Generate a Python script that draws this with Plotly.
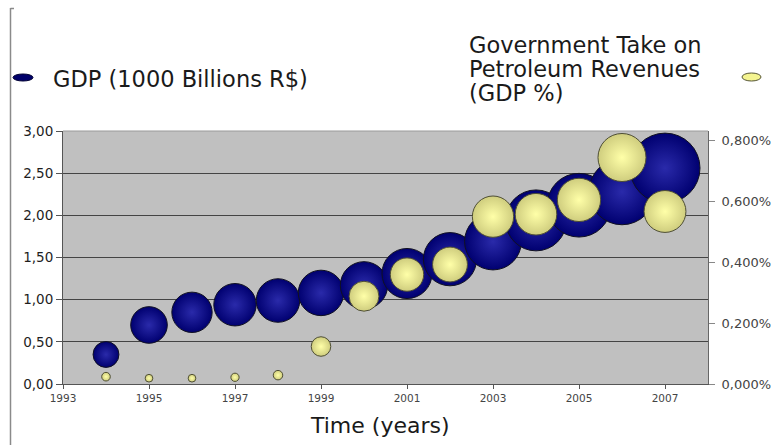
import plotly.graph_objects as go

years = [1994, 1995, 1996, 1997, 1998, 1999, 2000, 2001, 2002, 2003, 2004, 2005, 2006, 2007]
gdp = [0.35, 0.70, 0.85, 0.94, 0.99, 1.08, 1.17, 1.31, 1.48, 1.69, 1.94, 2.12, 2.28, 2.56]
gov_take = [0.024, 0.019, 0.019, 0.022, 0.029, 0.123, 0.288, 0.359, 0.392, 0.549, 0.557, 0.604, 0.743, 0.566]

left_ticks = [0, 0.5, 1.0, 1.5, 2.0, 2.5, 3.0]
right_ticks = [0, 0.2, 0.4, 0.6, 0.8]
right_tick_labels = ["0,000%", "0,200%", "0,400%", "0,600%", "0,800%"]
x_ticks = [1993, 1995, 1997, 1999, 2001, 2003, 2005, 2007]
gov_title_lines = ["Government Take on", "Petroleum Revenues", "(GDP %)"]

W, H = 779, 445
ML, MR, MT, MB = 63, 71, 131, 61
PW, PH = W - ML - MR, H - MT - MB


def px(x):
    return (x - ML) / PW


def py(y):
    return (H - MB - y) / PH


fig = go.Figure()
fig.add_trace(go.Scatter(
    x=years, y=gdp, mode="markers", name="GDP (1000 Billions R$)",
    marker=dict(size=gdp, sizemode="area", sizeref=2 / 43.75 ** 2,
                color="#000070", gradient=dict(type="radial", color="#2a2aaa"),
                line=dict(color="#111122", width=1), opacity=1),
    yaxis="y", showlegend=False, hoverinfo="x+y"))
fig.add_trace(go.Scatter(
    x=years, y=gov_take, mode="markers", name="Government Take on Petroleum Revenues (GDP %)",
    marker=dict(size=gov_take, sizemode="area", sizeref=2 / 55.7 ** 2,
                color="#cfcd7e", gradient=dict(type="radial", color="#ffffa8"),
                line=dict(color="#4e4e34", width=1), opacity=1),
    yaxis="y2", showlegend=False, hoverinfo="x+y"))

fig.update_layout(
    width=W, height=H,
    margin=dict(l=ML, r=MR, t=MT, b=MB, autoexpand=False),
    paper_bgcolor="white", plot_bgcolor="#c0c0c0",
    separators=",.",
    showlegend=False,
    xaxis=dict(range=[1993, 2008], tickvals=x_ticks, showgrid=False, zeroline=False,
               showline=True, linecolor="#555555", linewidth=1, automargin=False,
               ticks="outside", ticklen=4, tickcolor="#555555",
               tickfont=dict(family="DejaVu Sans", size=10.5, color="#444444")),
    yaxis=dict(range=[0, 3], tickvals=left_ticks, tickformat=".2f",
               showgrid=True, gridcolor="#444444", gridwidth=1, zeroline=False,
               showline=True, linecolor="#555555", linewidth=1, automargin=False,
               ticks="outside", ticklen=6, tickcolor="#555555",
               tickfont=dict(family="DejaVu Sans", size=13.5, color="#1e1e1e")),
    yaxis2=dict(range=[0, 0.83], tickvals=right_ticks, ticktext=right_tick_labels,
                overlaying="y", side="right", showgrid=False, zeroline=False,
                showline=True, linecolor="#666666", linewidth=1, automargin=False,
                ticks="outside", ticklen=6, tickcolor="#888888", ticklabelstandoff=4,
                tickfont=dict(family="DejaVu Sans", size=13, color="#444444")),
)

txtfont = dict(family="DejaVu Sans", size=22.5, color="#1a1a1a")
fig.add_annotation(text="GDP (1000 Billions R$)", xref="paper", yref="paper",
                   x=px(51), y=py(79), xanchor="left", yanchor="middle",
                   showarrow=False, font=txtfont)
for line_text, ypix in zip(gov_title_lines, [45, 69, 93]):
    fig.add_annotation(text=line_text, xref="paper", yref="paper", x=px(467), y=py(ypix),
                       xanchor="left", yanchor="middle", align="left",
                       showarrow=False, font=txtfont)
fig.add_annotation(text="Time (years)", xref="paper", yref="paper",
                   x=px(380), y=py(425), xanchor="center", yanchor="middle",
                   showarrow=False, font=dict(family="DejaVu Sans", size=22, color="#1a1a1a"))

# legend ellipses
fig.add_shape(type="circle", xref="paper", yref="paper",
              x0=px(13), x1=px(33), y0=py(81), y1=py(74),
              fillcolor="#00006a", line=dict(color="#000033", width=1))
fig.add_shape(type="circle", xref="paper", yref="paper",
              x0=px(742), x1=px(761), y0=py(81), y1=py(73),
              fillcolor="#f4f490", line=dict(color="#555533", width=1))
# frame line on the left and top edge of plot
fig.add_shape(type="line", xref="paper", yref="paper",
              x0=px(10.5), x1=px(10.5), y0=py(8), y1=py(445),
              line=dict(color="#8a8a8a", width=1.5))
fig.add_shape(type="line", xref="paper", yref="paper",
              x0=px(10.5), x1=px(14), y0=py(8.5), y1=py(8.5),
              line=dict(color="#8a8a8a", width=1.5))
fig.add_shape(type="line", xref="paper", yref="paper",
              x0=0, x1=1, y0=1, y1=1, line=dict(color="#9a9a9a", width=1))

fig.write_html("out.html")
